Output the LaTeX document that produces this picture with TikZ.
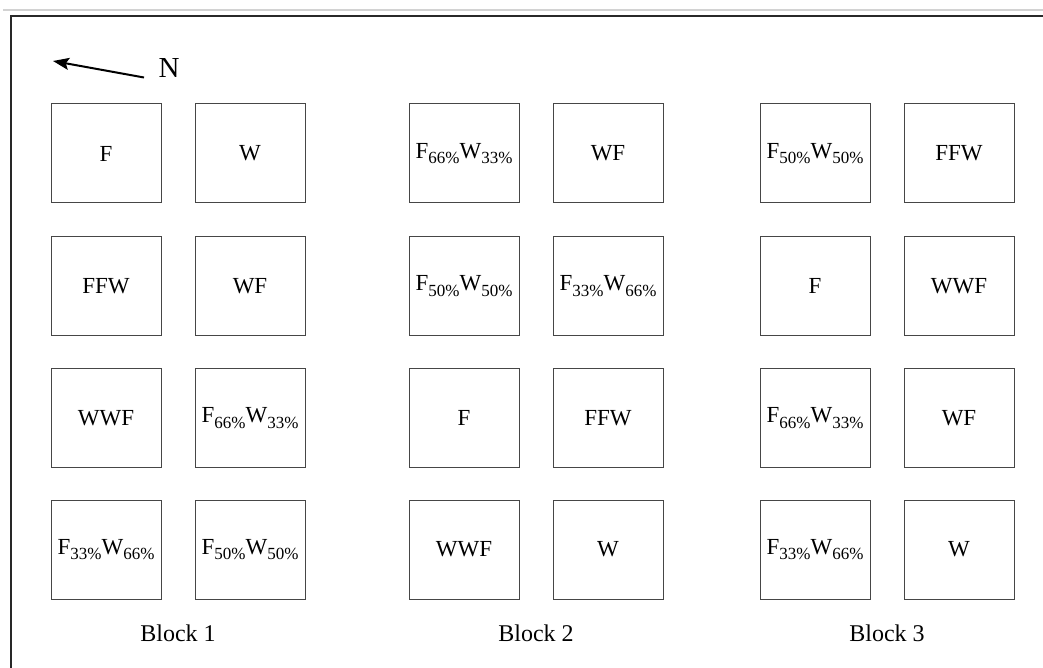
\documentclass[tikz,border=0pt]{standalone}
\usepackage{fontspec}
\setmainfont{Liberation Serif}
\usepackage{xcolor}
\usetikzlibrary{
    positioning,
    arrows.meta
}
\definecolor{frameGray}{RGB}{40, 40, 40}
\definecolor{plotGray}{RGB}{70, 70, 70}
\definecolor{ruleGray}{RGB}{210, 210, 210}

\newcommand{\pct}[1]{\raisebox{-5.5pt}{\fontsize{17}{17}\selectfont #1\%}}
\newcommand{\mix}[2]{F\pct{#1}W\pct{#2}}

\tikzset{
    plot/.style={draw=plotGray, line width=1pt, minimum width=110pt, minimum height=99pt,
        inner sep=0pt, font=\fontsize{23}{25}\selectfont},
    blocklabel/.style={font=\fontsize{24}{26}\selectfont}
}

\begin{document}
\begin{tikzpicture}[x=1pt, y=-1pt, >=Stealth]
        \useasboundingbox (0,0) rectangle (1043,668);
        % Page edge
        \draw[ruleGray, line width=1.2pt] (3,10) -- (1043,10);
        \draw[frameGray, line width=1.5pt] (11,668) -- (11,16) -- (1043,16);

        % North arrow
        \coordinate (ntail) at (144,77.5);
        \coordinate (nhead) at (53,61);
        \draw[-{Stealth[length=16pt, width=12pt, inset=3pt]}, line width=2pt, black] (ntail) -- (nhead);
        \node[font=\fontsize{29}{31}\selectfont] (north) at (169,68) {N};

        % Block 1
        \node[plot] (b1r1c1) at (106,153.5) {F};
        \node[plot] (b1r1c2) at (250,153.5) {W};
        \node[plot] (b1r2c1) at (106,286) {FFW};
        \node[plot] (b1r2c2) at (250,286) {WF};
        \node[plot] (b1r3c1) at (106,418) {WWF};
        \node[plot] (b1r3c2) at (250,418) {\mix{66}{33}};
        \node[plot] (b1r4c1) at (106,549.5) {\mix{33}{66}};
        \node[plot] (b1r4c2) at (250,549.5) {\mix{50}{50}};
        \node[blocklabel] (block1) at (178,633) {Block 1};

        % Block 2
        \node[plot] (b2r1c1) at (464,153.5) {\mix{66}{33}};
        \node[plot] (b2r1c2) at (608,153.5) {WF};
        \node[plot] (b2r2c1) at (464,286) {\mix{50}{50}};
        \node[plot] (b2r2c2) at (608,286) {\mix{33}{66}};
        \node[plot] (b2r3c1) at (464,418) {F};
        \node[plot] (b2r3c2) at (608,418) {FFW};
        \node[plot] (b2r4c1) at (464,549.5) {WWF};
        \node[plot] (b2r4c2) at (608,549.5) {W};
        \node[blocklabel] (block2) at (536,633) {Block 2};

        % Block 3
        \node[plot] (b3r1c1) at (815,153.5) {\mix{50}{50}};
        \node[plot] (b3r1c2) at (959,153.5) {FFW};
        \node[plot] (b3r2c1) at (815,286) {F};
        \node[plot] (b3r2c2) at (959,286) {WWF};
        \node[plot] (b3r3c1) at (815,418) {\mix{66}{33}};
        \node[plot] (b3r3c2) at (959,418) {WF};
        \node[plot] (b3r4c1) at (815,549.5) {\mix{33}{66}};
        \node[plot] (b3r4c2) at (959,549.5) {W};
        \node[blocklabel] (block3) at (887,633) {Block 3};
    \end{tikzpicture}
\end{document}
